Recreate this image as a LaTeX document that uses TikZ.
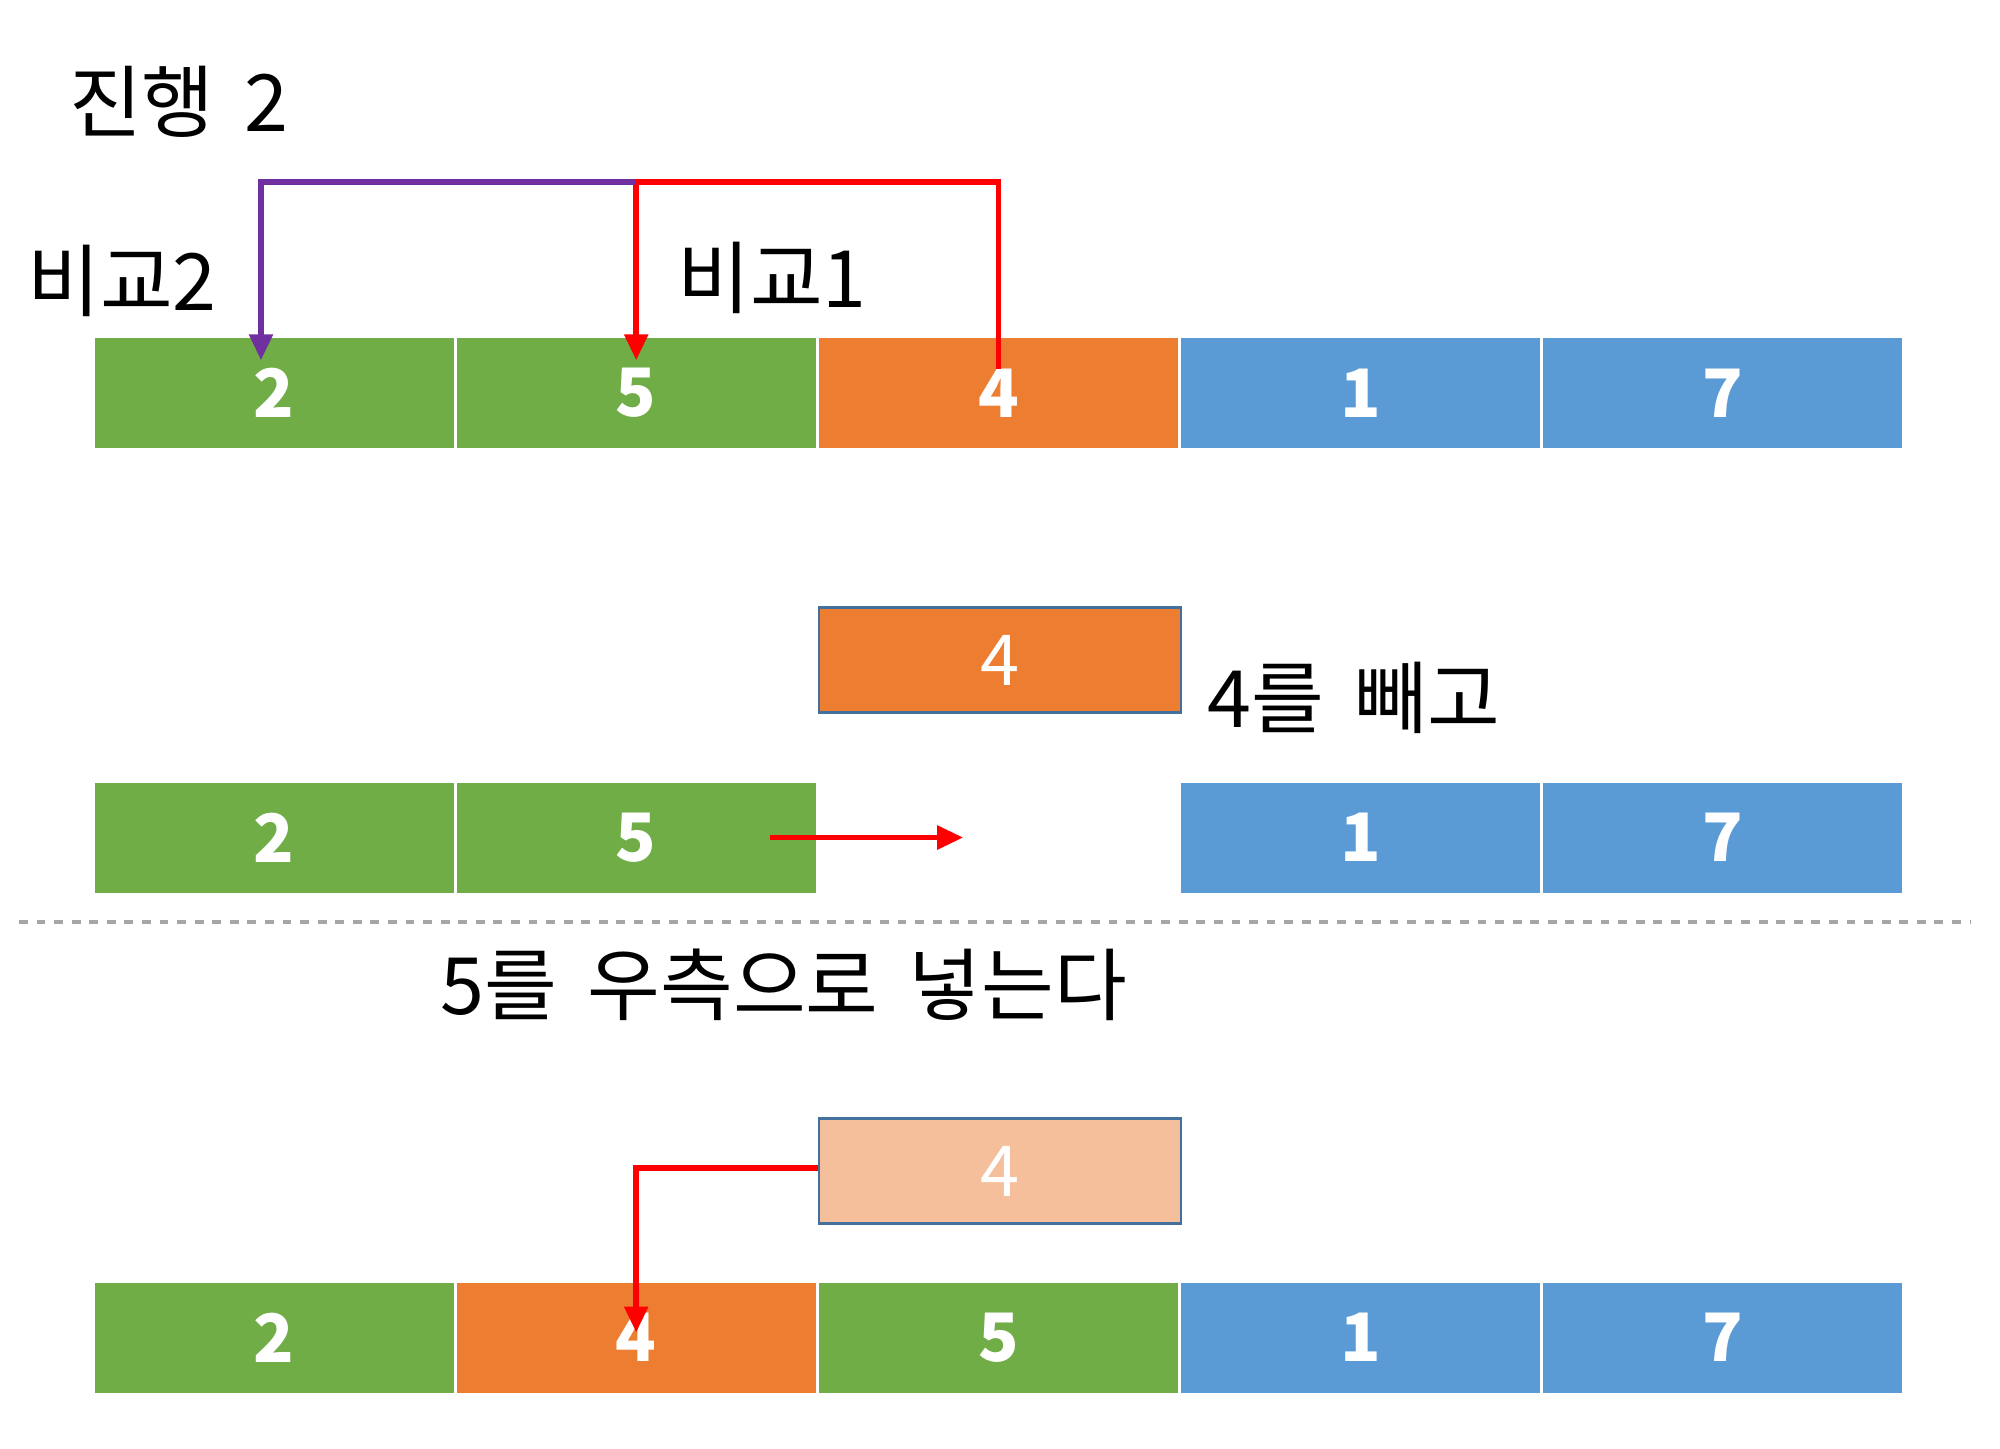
\documentclass[tikz,border=0pt]{standalone}
\usepackage{fontspec}
\setmainfont[WordSpace=1.7]{Noto Sans CJK KR}
\usetikzlibrary{arrows.meta, positioning, calc}
\definecolor{cgreen}{HTML}{70AD47}
\definecolor{corange}{HTML}{ED7D31}
\definecolor{clight}{HTML}{F6BF9B}
\definecolor{cblue}{HTML}{5B9BD5}
\definecolor{cedge}{HTML}{41719C}
\definecolor{cpurple}{HTML}{7030A0}
\definecolor{cred}{HTML}{FF0000}
\tikzset{
  % --- O (cell) ---------------------------------------------
  cell/.style={draw=none, minimum width=3.59cm, minimum height=1.1cm,
    inner sep=0pt, text=white, font=\fontsize{19}{23}\selectfont\bfseries},
  popbox/.style={draw=cedge, line width=0.8pt, minimum width=3.62cm,
    minimum height=1.05cm, inner sep=0pt, text=white,
    font=\fontsize{20}{24}\selectfont},
  % --- Chu thich ----------------------------------------------
  note/.style={font=\fontsize{22.5}{27}\selectfont, inner sep=0pt},
  % --- Mui ten ------------------------------------------------
  redarr/.style={draw=cred, line width=1.6pt, -{Triangle[width=0.23cm, length=0.26cm]}},
  purarr/.style={draw=cpurple, line width=1.6pt, -{Triangle[width=0.23cm, length=0.26cm]}},
  sepline/.style={draw=black!35, line width=1.2pt, dash pattern=on 2.5pt off 2.5pt}
}
\begin{document}
\begin{tikzpicture}
  \useasboundingbox (0,0) rectangle (20,-14.48);

  % --- Hang 1: day ban dau -----------------------------------
  \foreach \v/\c [count=\i] in {2/cgreen,5/cgreen,4/corange,1/cblue,7/cblue}
    \node[cell, fill=\c] (a\i) at ({2.74+(\i-1)*3.622},-3.93) {\v};

  \node[note] (step) at (1.79,-1.02) {진행 2};
  \node[note] (cmp2) at (1.22,-2.81) {비교2};
  \node[note] (cmp1) at (7.72,-2.78) {비교1};

  % --- So sanh: 4 -> 5 -> 2 ----------------------------------
  \coordinate (top) at (0,-1.82);
  \draw[redarr] ([yshift=-3.2mm]a3.north) -- (a3.north |- top)
    -| ([yshift=-2.3mm]a2.north);
  \draw[purarr] (a2.north |- top) -| ([xshift=-1.3mm, yshift=-2.3mm]a1.north);

  % --- Hang 2: lay 4 ra ---------------------------------------
  \node[popbox, fill=corange] (pop1) at (10.0,-6.6) {4};
  \node[note] (take) at (13.54,-6.98) {4를 빼고};

  \foreach \v/\c/\i in {2/cgreen/1,5/cgreen/2,1/cblue/4,7/cblue/5}
    \node[cell, fill=\c] (m\i) at ({2.74+(\i-1)*3.622},-8.375) {\v};

  \coordinate (shift) at ([xshift=3.27cm]m2.center);
  \draw[redarr] ([xshift=1.34cm]m2.center) -- (shift);

  % --- Duong phan cach ----------------------------------------
  \coordinate (sepL) at (0.19,-9.22);
  \coordinate (sepR) at (19.7,-9.22);
  \draw[sepline] (sepL) -- (sepR);

  \node[note] (move) at (7.84,-9.85) {5를 우측으로 넣는다};

  % --- Hang 3: chen 4 vao ------------------------------------
  \node[popbox, fill=clight] (pop2) at (10.0,-11.71) {4};

  \foreach \v/\c [count=\i] in {2/cgreen,4/corange,5/cgreen,1/cblue,7/cblue}
    \node[cell, fill=\c] (b\i) at ({2.74+(\i-1)*3.622},-13.375) {\v};

  \draw[redarr] ([yshift=0.03cm]pop2.west) -| ([yshift=0.05cm]b2.center);

\end{tikzpicture}
\end{document}
